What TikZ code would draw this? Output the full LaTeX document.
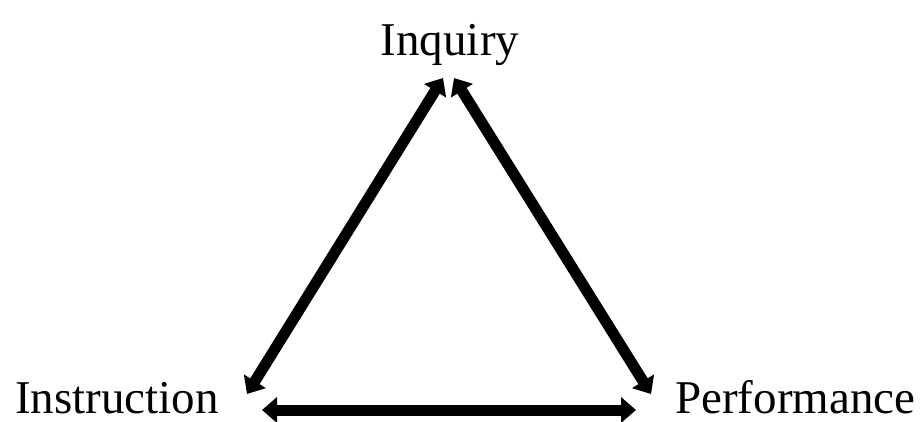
\documentclass[tikz,border=0pt]{standalone}
\usepackage{fontspec}
\setmainfont{Liberation Serif}
\usetikzlibrary{arrows.meta}
\begin{document}
\begin{tikzpicture}[x=1pt,y=-1pt,
  label/.style={inner sep=0pt,font=\fontsize{47}{50}\selectfont},
  link/.style={line width=11pt,{Triangle[length=15pt,width=25pt]}-{Triangle[length=15pt,width=25pt]}}]
\useasboundingbox (0,0) rectangle (923,421);
\node[label,anchor=base] (inq) at (450,55) {Inquiry};
\node[label,anchor=base west] (ins) at (15,413) {Instruction};
\node[label,anchor=base west] (per) at (675,413) {Performance};
\coordinate (lt) at (443,78);
\coordinate (lb) at (247,394);
\coordinate (rt) at (454,78);
\coordinate (rb) at (651,394);
\coordinate (bl) at (262,410);
\coordinate (br) at (636,410);
\draw[link] (lt) -- (lb);
\draw[link] (rt) -- (rb);
\draw[link] (bl) -- (br);
\end{tikzpicture}
\end{document}
